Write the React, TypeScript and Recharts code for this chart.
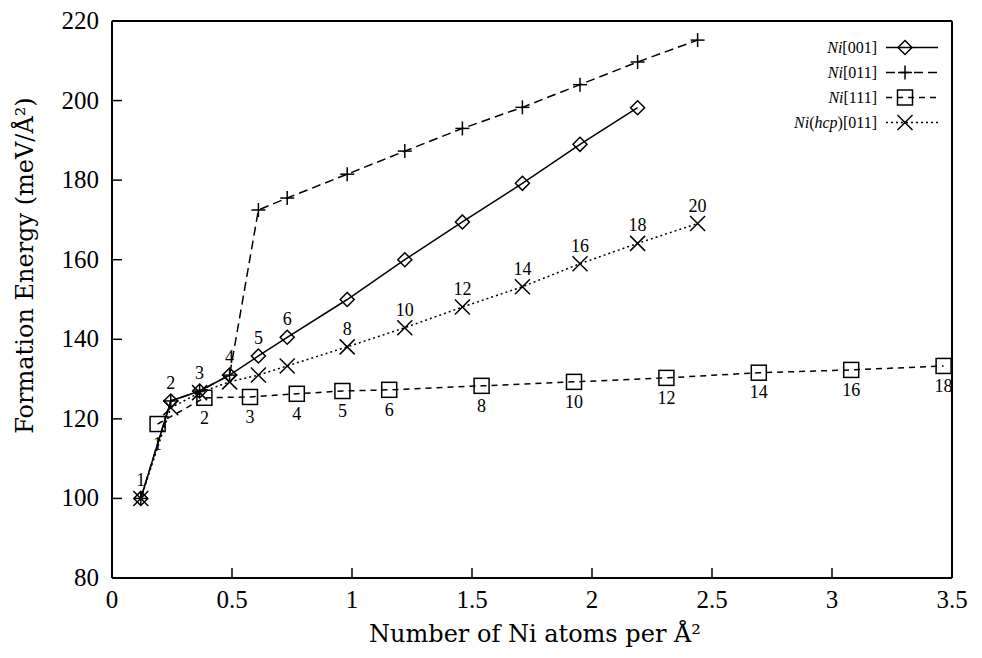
import React from 'react';
import { ComposedChart, Line, XAxis, YAxis, Legend, LabelList } from 'recharts';

const xTicks = [0, 0.5, 1, 1.5, 2, 2.5, 3, 3.5];
const yTicks = [80, 100, 120, 140, 160, 180, 200, 220];

// Ni[001]
const x001 = [0.12, 0.245, 0.365, 0.49, 0.61, 0.73, 0.98, 1.22, 1.46, 1.71, 1.95, 2.19];
const e001 = [100, 124.5, 127, 131, 135.8, 140.5, 150, 160, 169.5, 179.2, 189, 198.2];
const lab001 = ['1', '2', '3', '4', '5', '6', null, null, null, null, null, null];

// Ni[011]
const x011 = [0.12, 0.245, 0.365, 0.49, 0.61, 0.73, 0.98, 1.22, 1.46, 1.71, 1.95, 2.19, 2.44];
const e011 = [100, 124.5, 127, 131, 172.5, 175.5, 181.5, 187.3, 193, 198.3, 204, 209.7, 215.2];

// Ni[111]
const x111 = [0.19, 0.385, 0.575, 0.77, 0.96, 1.155, 1.54, 1.925, 2.31, 2.695, 3.08, 3.465];
const e111 = [118.7, 125.3, 125.5, 126.3, 127, 127.3, 128.3, 129.3, 130.3, 131.6, 132.3, 133.3];
const lab111 = ['1', '2', '3', '4', '5', '6', '8', '10', '12', '14', '16', '18'];

// Ni(hcp)[011]
const xHcp = [0.12, 0.245, 0.365, 0.49, 0.61, 0.73, 0.98, 1.22, 1.46, 1.71, 1.95, 2.19, 2.44];
const eHcp = [100, 122.8, 126.6, 129.3, 131, 133.3, 138.1, 142.9, 148.1, 153.2, 159, 164.1, 169.1];
const labHcp = [null, null, null, null, null, null, '8', '10', '12', '14', '16', '18', '20'];

const seriesOrder = ['Ni[001]', 'Ni[011]', 'Ni[111]', 'Ni(hcp)[011]'];

const rows = (xs: number[], es: number[], labs?: (string | null)[]) =>
  xs.map((x, i) => ({ x, e: es[i], label: labs ? labs[i] : null }));

const d001 = rows(x001, e001, lab001);
const d011 = rows(x011, e011);
const d111 = rows(x111, e111, lab111);
const dHcp = rows(xHcp, eHcp, labHcp);

const SERIF = '"Liberation Serif", "Times New Roman", serif';
const TITLE_FONT = '"DejaVu Serif", serif';

const Marker = ({ kind, cx, cy }: { kind: string; cx: number; cy: number }) => {
  const s = { fill: 'none', stroke: '#000', strokeWidth: 1.5 };
  if (kind === 'diamond') {
    const r = 7;
    return <polygon points={`${cx},${cy - r} ${cx + r},${cy} ${cx},${cy + r} ${cx - r},${cy}`} {...s} />;
  }
  if (kind === 'plus') {
    const r = 7;
    return (
      <g {...s}>
        <line x1={cx - r} x2={cx + r} y1={cy} y2={cy} />
        <line x1={cx} x2={cx} y1={cy - r} y2={cy + r} />
      </g>
    );
  }
  if (kind === 'square') {
    const r = 7.5;
    return <rect x={cx - r} y={cy - r} width={2 * r} height={2 * r} {...s} />;
  }
  const r = 7.5;
  return (
    <g {...s}>
      <line x1={cx - r} x2={cx + r} y1={cy - r} y2={cy + r} />
      <line x1={cx - r} x2={cx + r} y1={cy + r} y2={cy - r} />
    </g>
  );
};

const styles: Record<string, { kind: string; dash?: string }> = {
  'Ni[001]': { kind: 'diamond' },
  'Ni[011]': { kind: 'plus', dash: '9 5' },
  'Ni[111]': { kind: 'square', dash: '6 5' },
  'Ni(hcp)[011]': { kind: 'cross', dash: '2 3' },
};

const dotFor = (kind: string) => (p: any) =>
  <Marker key={`${kind}-${p.index}`} kind={kind} cx={p.cx} cy={p.cy} />;

const BottomTick = (props: any) => {
  const { x, y, payload } = props;
  const axisY = y - 13;
  return (
    <g>
      <line x1={x} x2={x} y1={axisY} y2={axisY - 10} stroke="#000" strokeWidth={1.5} />
      <text x={x} y={y + 17} textAnchor="middle" fontFamily={SERIF} fontSize={25} fill="#000">
        {payload.value}
      </text>
    </g>
  );
};

const LeftTick = (props: any) => {
  const { x, y, payload } = props;
  const axisX = x + 13;
  return (
    <g>
      <line x1={axisX} x2={axisX + 10} y1={y} y2={y} stroke="#000" strokeWidth={1.5} />
      <text x={x} y={y + 8} textAnchor="end" fontFamily={SERIF} fontSize={25} fill="#000">
        {payload.value}
      </text>
    </g>
  );
};

const TopTick = (props: any) => {
  const { x, y } = props;
  return <line x1={x} x2={x} y1={y} y2={y + 10} stroke="#000" strokeWidth={1.5} />;
};

const RightTick = (props: any) => {
  const { x, y } = props;
  return <line x1={x} x2={x - 10} y1={y} y2={y} stroke="#000" strokeWidth={1.5} />;
};

const XTitle = (props: any) => {
  const vb = props.viewBox || { x: 104, y: 570, width: 840, height: 72 };
  return (
    <text x={vb.x + vb.width / 2 + 3} y={vb.y + 64} textAnchor="middle" fontFamily={TITLE_FONT} fontSize={24} fill="#000">
      Number of Ni atoms per Å²
    </text>
  );
};

const YTitle = (props: any) => {
  const vb = props.viewBox || { x: 0, y: 13, width: 104, height: 557 };
  const cx = vb.x + 25;
  const cy = vb.y + vb.height / 2 - 34;
  return (
    <text x={cx} y={cy} transform={`rotate(-90 ${cx} ${cy})`} textAnchor="middle" fontFamily={TITLE_FONT} fontSize={24} fill="#000">
      Formation Energy (meV/Å²)
    </text>
  );
};

const renderName = (name: string) => {
  if (name.startsWith('Ni(hcp)')) {
    return (
      <>
        <i>Ni</i>(<i>hcp</i>){name.slice(7)}
      </>
    );
  }
  return (
    <>
      <i>Ni</i>
      {name.slice(2)}
    </>
  );
};

const LegendBox = (props: any) => {
  const payload = [...(props.payload || [])].sort(
    (a: any, b: any) => seriesOrder.indexOf(a.value) - seriesOrder.indexOf(b.value)
  );
  return (
    <div style={{ fontFamily: SERIF, fontSize: 16, color: '#000' }}>
      {payload.map((entry: any) => {
        const st = styles[entry.value];
        return (
          <div key={entry.value} style={{ display: 'flex', justifyContent: 'flex-end', alignItems: 'center', height: 25 }}>
            <span style={{ marginRight: 3 }}>{renderName(entry.value)}</span>
            <svg width={62} height={25}>
              <line x1={6} x2={58} y1={12.5} y2={12.5} stroke="#000" strokeWidth={1.5} strokeDasharray={st.dash} />
              <Marker kind={st.kind} cx={25} cy={12.5} />
            </svg>
          </div>
        );
      })}
    </div>
  );
};

const labelStyle = { fontFamily: SERIF, fontSize: 18, fill: '#000' };

export default function App() {
  return (
    <ComposedChart width={966} height={642} margin={{ top: 0, right: 0, bottom: 0, left: 0 }}>
      <XAxis
        dataKey="x"
        type="number"
        domain={[0, 3.5]}
        ticks={xTicks}
        interval={0}
        height={72}
        tickLine={false}
        tickSize={0}
        tickMargin={13}
        axisLine={{ stroke: '#000', strokeWidth: 2 }}
        tick={<BottomTick />}
        label={{ content: <XTitle /> }}
      />
      <XAxis
        xAxisId="top"
        orientation="top"
        type="number"
        domain={[0, 3.5]}
        ticks={xTicks}
        interval={0}
        height={13}
        tickLine={false}
        tickSize={0}
        tickMargin={0}
        axisLine={{ stroke: '#000', strokeWidth: 2 }}
        tick={<TopTick />}
      />
      <YAxis
        type="number"
        domain={[80, 220]}
        ticks={yTicks}
        interval={0}
        width={104}
        tickLine={false}
        tickSize={0}
        tickMargin={13}
        axisLine={{ stroke: '#000', strokeWidth: 2 }}
        tick={<LeftTick />}
        label={{ content: <YTitle /> }}
      />
      <YAxis
        yAxisId="right"
        orientation="right"
        type="number"
        domain={[80, 220]}
        ticks={yTicks}
        interval={0}
        width={22}
        tickLine={false}
        tickSize={0}
        tickMargin={0}
        axisLine={{ stroke: '#000', strokeWidth: 2 }}
        tick={<RightTick />}
      />
      <Legend
        layout="vertical"
        align="center"
        verticalAlign="middle"
        width={200}
        itemSorter={null}
        wrapperStyle={{ top: 27, left: 734, width: 200 }}
        content={<LegendBox />}
      />
      <Line
        name="Ni[001]"
        data={d001}
        dataKey="e"
        type="linear"
        stroke="#000"
        strokeWidth={1.5}
        dot={dotFor('diamond')}
        activeDot={false}
        isAnimationActive={false}
      >
        <LabelList dataKey="label" position="top" offset={12} {...labelStyle} />
      </Line>
      <Line
        name="Ni[011]"
        data={d011}
        dataKey="e"
        type="linear"
        stroke="#000"
        strokeWidth={1.5}
        strokeDasharray="9 5"
        dot={dotFor('plus')}
        activeDot={false}
        isAnimationActive={false}
      />
      <Line
        name="Ni[111]"
        data={d111}
        dataKey="e"
        type="linear"
        stroke="#000"
        strokeWidth={1.5}
        strokeDasharray="6 5"
        dot={dotFor('square')}
        activeDot={false}
        isAnimationActive={false}
      >
        <LabelList dataKey="label" position="bottom" offset={13} {...labelStyle} />
      </Line>
      <Line
        name="Ni(hcp)[011]"
        data={dHcp}
        dataKey="e"
        type="linear"
        stroke="#000"
        strokeWidth={1.5}
        strokeDasharray="2 3"
        dot={dotFor('cross')}
        activeDot={false}
        isAnimationActive={false}
      >
        <LabelList dataKey="label" position="top" offset={12} {...labelStyle} />
      </Line>
    </ComposedChart>
  );
}
